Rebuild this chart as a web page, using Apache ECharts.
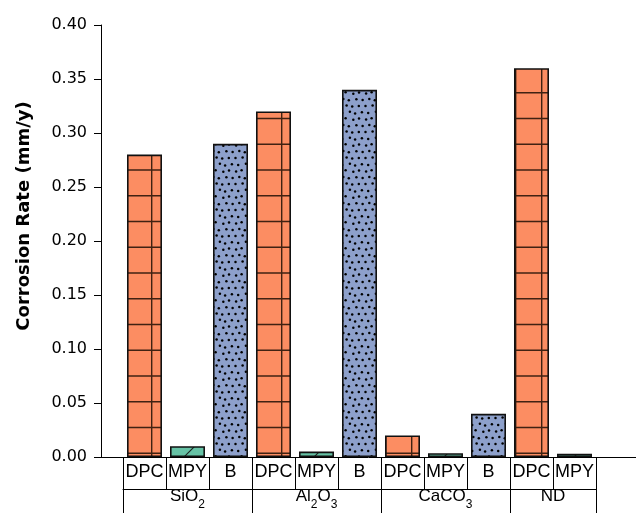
<!DOCTYPE html>
<html>
<head>
<meta charset="utf-8">
<script src="https://cdn.jsdelivr.net/npm/echarts@6/dist/echarts.min.js"></script>
<style>
  html, body { margin: 0; padding: 0; background: #fff; }
  #chart { width: 636px; height: 513px; }
</style>
</head>
<body>
<div id="chart"></div>
<script>
// Corrosion rate measured by three methods for each deposit type
const methods = ['DPC', 'MPY', 'B', 'DPC', 'MPY', 'B', 'DPC', 'MPY', 'B', 'DPC', 'MPY'];
const corrosionRate = [0.280, 0.010, 0.290, 0.320, 0.005, 0.340, 0.020, 0.0035, 0.040, 0.360, 0.003];
const deposits = ['SiO2', 'Al2O3', 'CaCO3', 'ND'];
const depositSpan = [3, 3, 3, 2];
const yTicks = [0, 0.05, 0.10, 0.15, 0.20, 0.25, 0.30, 0.35, 0.40];

const COLORS = { DPC: '#fc8d62', MPY: '#66c2a5', B: '#8da0cb' };

// Fill patterns: grid for DPC, diagonal hatch for MPY, dots for B
function makeTile(w, h, draw) {
  const c = document.createElement('canvas');
  c.width = w; c.height = h;
  const ctx = c.getContext('2d');
  draw(ctx, w, h);
  return c;
}
const gridTile = makeTile(26, 103, (ctx, w, h) => {
  ctx.fillStyle = COLORS.DPC;
  ctx.fillRect(0, 0, w, h);
  ctx.strokeStyle = 'rgba(30,15,5,0.85)';
  ctx.lineWidth = 1.4;
  ctx.beginPath();
  ctx.moveTo(21.7, 0); ctx.lineTo(21.7, h);
  [15.5, 41.25, 67, 92.75].forEach(y => { ctx.moveTo(0, y); ctx.lineTo(w, y); });
  ctx.stroke();
});
const hatchTile = makeTile(26, 26, (ctx, w, h) => {
  ctx.fillStyle = COLORS.MPY;
  ctx.fillRect(0, 0, w, h);
  ctx.strokeStyle = 'rgba(20,20,20,0.9)';
  ctx.lineWidth = 1.2;
  ctx.beginPath();
  [-9, 17, 43].forEach(c => { ctx.moveTo(c + 6, -6); ctx.lineTo(c - 32, 32); });
  ctx.stroke();
});
const dotTile = makeTile(26, 26, (ctx, w, h) => {
  ctx.fillStyle = COLORS.B;
  ctx.fillRect(0, 0, w, h);
  ctx.fillStyle = '#000';
  const dots = [
    [1.5, 2.0], [8.6, 1.6], [14.2, 2.4], [20.8, 1.9],
    [4.2, 8.9], [11.9, 7.8], [17.1, 9.4], [23.9, 8.2],
    [2.1, 15.4], [7.6, 14.3], [15.3, 15.8], [21.0, 14.6],
    [5.3, 21.0], [10.8, 22.3], [18.4, 21.2], [24.6, 22.0]
  ];
  dots.forEach(([x, y]) => { ctx.beginPath(); ctx.arc(x, y, 1.25, 0, Math.PI * 2); ctx.fill(); });
});
const patternFor = {
  DPC: { image: gridTile, repeat: 'repeat' },
  MPY: { image: hatchTile, repeat: 'repeat' },
  B: { image: dotTile, repeat: 'repeat' }
};

// Group boundaries and label positions on the second label row
const groupEdges = [0];
const groupCenters = [];
depositSpan.forEach(s => {
  const start = groupEdges[groupEdges.length - 1];
  groupCenters.push(start + s / 2);
  groupEdges.push(start + s);
});
function richDeposit(name) {
  return name.replace(/([A-Za-z])(\d)/g, '$1{s|$2}').split(/(\{s\|\d\})/)
    .filter(p => p).map(p => p.startsWith('{s|') ? p : '{m|' + p + '}').join('');
}

const SANS = '"Liberation Sans", Arial, Helvetica, sans-serif';
const WIDE = '"DejaVu Sans", sans-serif';
const GRID_TOP = 25, GRID_BOTTOM = 56;

const chart = echarts.init(document.getElementById('chart'), null, { renderer: 'canvas' });
chart.setOption({
  animation: false,
  grid: [
    { left: 123, right: 40, top: GRID_TOP, bottom: GRID_BOTTOM },
    { left: 101, right: 0, top: GRID_TOP, bottom: GRID_BOTTOM }
  ],
  xAxis: [
    {
      gridIndex: 0, type: 'category', data: methods,
      axisLine: { show: false },
      axisTick: { show: true, interval: 0, length: 32, lineStyle: { color: '#000', width: 1 } },
      axisLabel: { interval: 0, margin: 6, color: '#000', fontFamily: SANS, fontSize: 18 },
      splitLine: { show: false }
    },
    {
      gridIndex: 0, type: 'value', min: 0, max: methods.length, position: 'bottom', offset: 32,
      axisLine: { show: true, lineStyle: { color: '#000', width: 1 } },
      axisTick: { show: true, customValues: groupEdges, length: 30, lineStyle: { color: '#000', width: 1 } },
      axisLabel: {
        customValues: groupCenters, margin: -1,
        formatter: v => richDeposit(deposits[groupCenters.indexOf(v)] || ''),
        rich: {
          m: { fontFamily: SANS, fontSize: 17, color: '#000', lineHeight: 20, verticalAlign: 'top' },
          s: { fontFamily: SANS, fontSize: 12, color: '#000', lineHeight: 12, verticalAlign: 'top', padding: [11, 0, 0, 0] }
        }
      },
      splitLine: { show: false }
    },
    {
      gridIndex: 1, type: 'value', min: 0, max: 1,
      axisLine: { show: true, onZero: false, lineStyle: { color: '#000', width: 1 } },
      axisTick: { show: false }, axisLabel: { show: false }, splitLine: { show: false }
    }
  ],
  yAxis: [
    { gridIndex: 0, type: 'value', min: 0, max: 0.4, show: false, splitLine: { show: false } },
    {
      gridIndex: 1, type: 'value', min: yTicks[0], max: yTicks[yTicks.length - 1], interval: 0.05,
      name: 'Corrosion Rate (mm/y)', nameLocation: 'middle', nameGap: 68,
      nameTextStyle: { fontFamily: WIDE, fontWeight: 'bold', fontSize: 18, color: '#000', padding: [0, 0, 0, 50] },
      axisLine: { show: true, lineStyle: { color: '#000', width: 1 } },
      axisTick: { show: true, length: 7, inside: false, lineStyle: { color: '#000', width: 1 } },
      axisLabel: { margin: 14, color: '#000', fontFamily: WIDE, fontSize: 16, formatter: v => v.toFixed(2) },
      splitLine: { show: false }
    }
  ],
  series: [{
    type: 'bar', xAxisIndex: 0, yAxisIndex: 0, barWidth: 35,
    data: corrosionRate.map((v, i) => ({
      value: v,
      itemStyle: { color: patternFor[methods[i]], borderColor: '#111', borderWidth: 1.6 }
    }))
  }]
});
</script>
</body>
</html>
